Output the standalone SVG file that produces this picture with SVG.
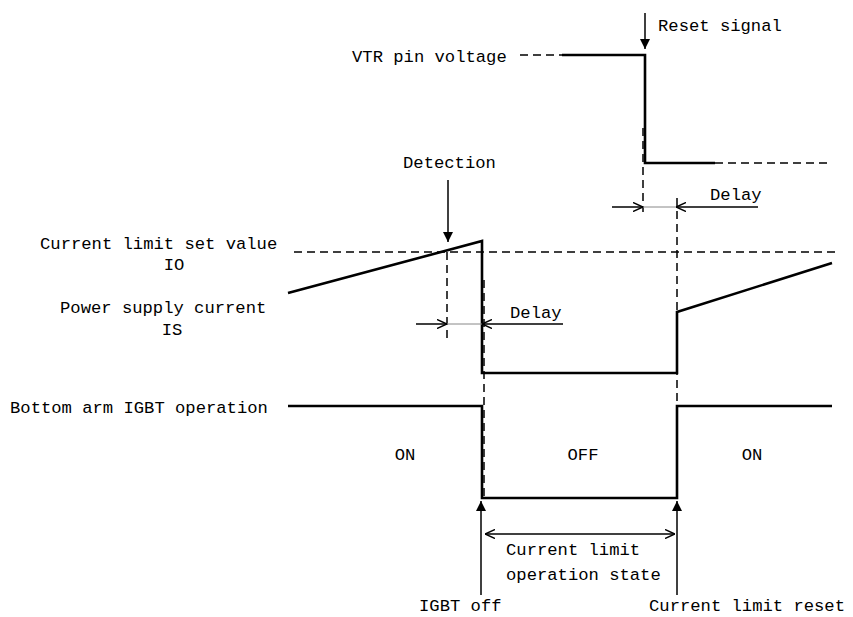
<svg xmlns="http://www.w3.org/2000/svg" width="853" height="617" viewBox="0 0 853 617">
<defs>
<marker id="fill" viewBox="0 0 10 10" refX="10" refY="5" markerWidth="10" markerHeight="10" markerUnits="userSpaceOnUse" orient="auto">
<path d="M0,0 L10,5 L0,10 Z" fill="#000"/>
</marker>
<marker id="open" viewBox="0 0 10 10" refX="10" refY="5" markerWidth="10" markerHeight="10" markerUnits="userSpaceOnUse" orient="auto-start-reverse">
<path d="M0,0.5 L10,5 L0,9.5" fill="none" stroke="#000" stroke-width="1.5"/>
</marker>
</defs>
<style>
text{font-family:"Liberation Mono","DejaVu Sans Mono",monospace;font-size:17.2px;fill:#000}
.w{fill:none;stroke:#000;stroke-width:2.6;stroke-linejoin:miter}
.d{fill:none;stroke:#000;stroke-width:1.5;stroke-dasharray:8,5}
.a{fill:none;stroke:#000;stroke-width:1.5}
.t{fill:none;stroke:#888;stroke-width:1}
</style>
<rect width="853" height="617" fill="#fff"/>
<g id="labels">
<text x="658" y="31">Reset signal</text>
<text x="352" y="62">VTR pin voltage</text>
<text x="403" y="168">Detection</text>
<text x="710" y="200">Delay</text>
<text x="40" y="249">Current limit set value</text>
<text x="174" y="270" text-anchor="middle">IO</text>
<text x="60" y="313">Power supply current</text>
<text x="172" y="335" text-anchor="middle">IS</text>
<text x="510" y="318">Delay</text>
<text x="10" y="413">Bottom arm IGBT operation</text>
<text x="405" y="460" text-anchor="middle">ON</text>
<text x="583" y="460" text-anchor="middle">OFF</text>
<text x="752" y="460" text-anchor="middle">ON</text>
<text x="506" y="555">Current limit</text>
<text x="506" y="580">operation state</text>
<text x="419" y="611">IGBT off</text>
<text x="649" y="611">Current limit reset</text>
</g>
<g id="vtr-waveform">
<path class="d" d="M520,55 L562,55"/>
<path class="w" d="M562,55 L645,55 L645,163 L715,163"/>
<path class="d" d="M715,163 L828,163"/>
</g>
<g id="current-waveform">
<path class="d" d="M294,252 L838,252"/>
<path class="w" d="M288,293 L482,241 L482,373 L677,373 L677,312 L832,263"/>
</g>
<g id="igbt-waveform">
<path class="w" d="M288,406 L482,406 L482,498 L677,498 L677,406 L832,406"/>
</g>
<g id="connectors">
<path class="d" d="M643,128 L643,212"/>
<path class="d" d="M677,198 L677,406"/>
<path class="d" d="M447,252 L447,342"/>
<path class="d" d="M484,280 L484,498"/>
<path class="a" d="M645,13 L645,49" marker-end="url(#fill)"/>
<path class="a" d="M448,180 L448,242" marker-end="url(#fill)"/>
<path class="a" d="M612,207 L643,207" marker-end="url(#open)"/>
<path class="t" d="M643,207 L676,207"/>
<path class="a" d="M758,207 L676,207" marker-end="url(#open)"/>
<path class="a" d="M416,324 L447,324" marker-end="url(#open)"/>
<path class="t" d="M447,324 L482,324"/>
<path class="a" d="M563,324 L482,324" marker-end="url(#open)"/>
<path class="a" d="M481,595 L481,501" marker-end="url(#fill)"/>
<path class="a" d="M677,595 L677,501" marker-end="url(#fill)"/>
<path class="a" d="M485,534 L675,534" marker-start="url(#open)" marker-end="url(#open)"/>
</g>
</svg>
